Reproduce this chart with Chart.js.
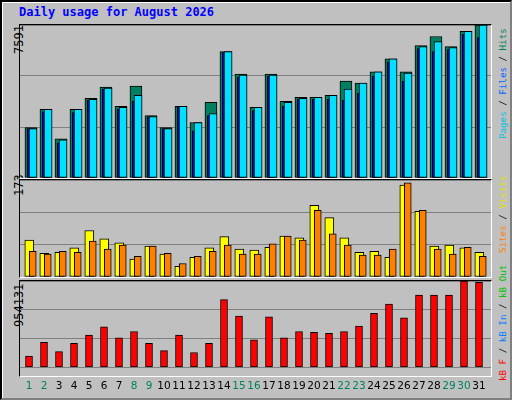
<!DOCTYPE html>
<html><head><meta charset="utf-8">
<script src="https://cdn.jsdelivr.net/npm/chart.js@4"></script>
<style>
body{margin:0;background:#fff}
#wrap{position:absolute;left:0;top:0;width:508px;height:396px;background:#C0C0C0;border:2px solid #000;border-right-color:#808080;border-bottom-color:#808080;box-shadow:inset 1px 1px 0 #fff}
.t{position:absolute;font-family:"DejaVu Sans Mono",monospace;font-size:12px;white-space:nowrap}
.lg{font-size:9.2px}
.rot{transform-origin:0 0;transform:rotate(-90deg)}
.frame{position:absolute;border-top:1px solid #000;border-left:1px solid #000;border-right:1px solid #fff;border-bottom:1px solid #fff;pointer-events:none}
canvas{position:absolute}
</style></head><body>
<div id="wrap">
<div class="t" style="left:17px;top:3px;color:#0000FF;font-weight:bold">Daily usage for August 2026</div>
<div class="t rot" style="left:10px;top:52px;color:#000">7591</div>
<div class="t rot" style="left:10px;top:194px;color:#000">173</div>
<div class="t rot" style="left:10px;top:325px;color:#000">954131</div>
<div class="t lg rot" style="left:495px;top:137px"><span style="color:#00C0E0">Pages</span><span style="color:#000"> / </span><span style="color:#0060FF">Files</span><span style="color:#000"> / </span><span style="color:#008060">Hits</span></div>
<div class="t lg rot" style="left:495px;top:251px"><span style="color:#FF8000">Sites</span><span style="color:#000"> / </span><span style="color:#E0E000">Visits</span></div>
<div class="t lg rot" style="left:495px;top:379px"><span style="color:#FF0000">kB F</span><span style="color:#000"> / </span><span style="color:#0080FF">kB In</span><span style="color:#000"> / </span><span style="color:#00C000">kB Out</span></div>
</div>
<canvas id="c1" style="left:20px;top:25px;width:471px;height:153px"></canvas>
<canvas id="c2" style="left:20px;top:180px;width:471px;height:97px"></canvas>
<canvas id="c3" style="left:20px;top:281px;width:471px;height:117px"></canvas>
<div class="frame" style="left:19px;top:24px;width:471px;height:153px"></div>
<div class="frame" style="left:19px;top:179px;width:471px;height:97px"></div>
<div class="frame" style="left:19px;top:280px;width:471px;height:95px"></div>
<script>
const days=[1,2,3,4,5,6,7,8,9,10,11,12,13,14,15,16,17,18,19,20,21,22,23,24,25,26,27,28,29,30,31];
const weekend=[1,2,8,9,15,16,22,23,29,30];
const hits=[2497,3402,1944,3402,3955,4508,3552,4558,3100,2497,3552,2748,3754,6267,5161,3502,5161,3804,4005,4005,4105,4809,4709,5262,5915,5262,6569,7021,6518,7273,7591];
const files=[2447,3402,1894,3402,3904,4457,3502,4105,3050,2447,3552,2748,3201,6267,5111,3502,5111,3754,3955,4005,4105,4407,4709,5262,5915,5211,6518,6770,6468,7273,7591];
const pages=[2447,3301,1743,3251,3854,4407,3402,3804,3050,2447,3552,2346,3100,6217,5010,3351,5061,3552,3904,3904,3904,3854,4206,5061,5764,4809,6418,6267,6368,7122,6971];
const visits=[66,42,44,52,83,68,61,32,55,41,19,35,52,72,50,48,53,73,70,128,106,70,44,46,35,164,117,55,57,52,44];
const sites=[46,41,46,44,64,50,57,37,55,42,24,37,46,57,41,41,59,73,66,119,77,57,39,39,50,168,119,50,41,53,37];
const kbytes=[124300,275500,174700,265400,356200,446900,325900,396500,265400,184800,356200,164600,265400,749300,567800,305800,557800,325900,396500,386400,376300,396500,457000,598100,698900,547700,799700,799700,799700,954131,940000];
const maxHits=7591,maxVisits=173,maxKB=954131;
const XMIN=0.4,XMAX=31.8;
function pts(vals,off){return vals.map((v,i)=>({x:days[i]+off,y:v}));}
function ds(vals,off,w,color,order){return {data:pts(vals,off),backgroundColor:color,borderColor:'#000',borderWidth:1,borderSkipped:false,barThickness:w,grouped:false,order:order};}
function opts(max,showX){return {responsive:false,animation:false,devicePixelRatio:1,
 layout:{padding:0},plugins:{legend:{display:false},tooltip:{enabled:false}},
 scales:{x:{type:'linear',offset:false,min:XMIN,max:XMAX,display:showX,grid:{display:false,offset:false},border:{display:false},
   afterBuildTicks:a=>{a.ticks=days.map(d=>({value:d}));},
   ticks:{autoSkip:false,maxRotation:0,padding:5,font:{family:'DejaVu Sans',size:10.5},
     color:c=>weekend.includes(c.tick.value)?'#008060':'#000',callback:v=>String(v)}},
  y:{min:0,max:max,afterFit:a=>{a.width=0;},ticks:{display:false,stepSize:max/3},grid:{color:'#808080',drawTicks:false},border:{display:false}}}};}
function mk(id,w,h,datasets,max,showX){const c=document.getElementById(id);c.width=w;c.height=h;
 return new Chart(c,{type:'bar',data:{datasets},options:opts(max,showX)});}
mk('c1',471,153,[ds(hits,0.13,12,'#008060',3),ds(pages,0.09,6,'#0000FF',2),ds(files,0.27,8,'#00E0FF',1)],maxHits,false);
mk('c2',471,97,[ds(visits,0.02,9,'#FFFF00',2),ds(sites,0.25,7,'#FF8000',1)],maxVisits,false);
mk('c3',471,117,[ds(kbytes,0,7,'#FF0000',1)],maxKB,true);
</script></body></html>
